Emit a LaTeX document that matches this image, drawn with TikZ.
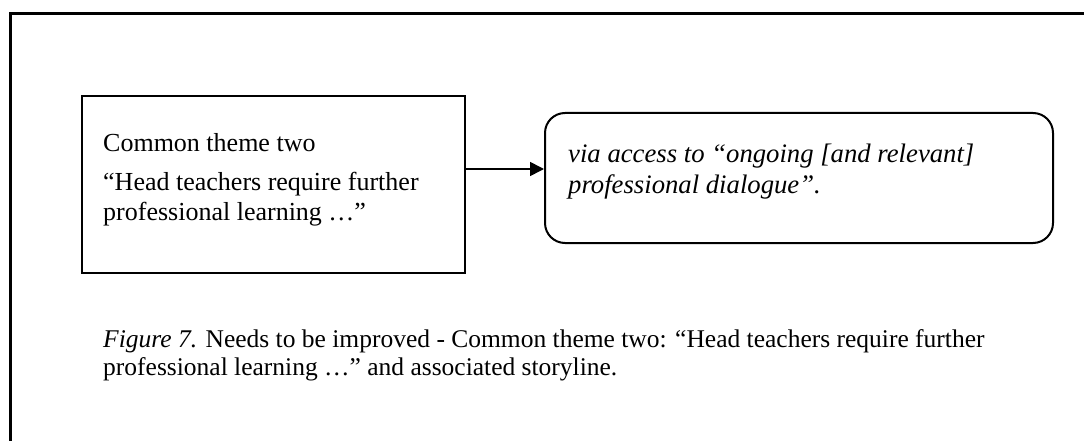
\documentclass[tikz,border=0pt]{standalone}
\usepackage{fontspec}
\setmainfont{Liberation Serif}
\usetikzlibrary{arrows.meta}
\begin{document}
\begin{tikzpicture}[x=1pt,y=-1pt,
  frameline/.style={line width=3pt},
  plainbox/.style={draw,line width=1.6pt,inner sep=0pt},
  roundbox/.style={draw,line width=2pt,rounded corners=20pt,inner sep=0pt},
  boxtext/.style={anchor=base west,inner sep=0pt,font=\fontsize{26}{30}\selectfont},
  storytext/.style={anchor=base west,inner sep=0pt,font=\fontsize{26.7}{30}\selectfont\itshape},
  captext/.style={anchor=base west,inner sep=0pt,font=\fontsize{25.5}{28}\selectfont},
  link/.style={line width=1.6pt,-{Triangle[length=14pt,width=14pt]}}]
\useasboundingbox (0,0) rectangle (1084,441);
% outer frame (top and left edges only)
\coordinate (ftl) at (10.5,13.5);
\coordinate (ftr) at (1084,13.5);
\coordinate (fbl) at (10.5,441);
\draw[frameline] (ftr) -- (ftl) -- (fbl);
% theme box
\node[plainbox,minimum width=383pt,minimum height=177pt] (theme) at (273.5,184.5) {};
\node[boxtext] (t1) at (103,152) {Common theme two};
\node[boxtext] (t2) at (103,190) {“Head teachers require further};
\node[boxtext] (t3) at (103,220) {professional learning …”};
% storyline box
\node[roundbox,minimum width=508pt,minimum height=130pt] (story) at (799,178) {};
\node[storytext] (s1) at (568,163) {via access to “ongoing [and relevant]};
\node[storytext] (s2) at (568,193) {professional dialogue”.};
% connector
\coordinate (start) at (theme.east |- 0,169);
\draw[link] (start) -- (start -| story.west);
% caption
\node[captext] (c1) at (103,347) {\textit{Figure 7.} Needs to be improved - Common theme two: “Head teachers require further};
\node[captext] (c2) at (103,375) {professional learning …” and associated storyline.};
\end{tikzpicture}
\end{document}
